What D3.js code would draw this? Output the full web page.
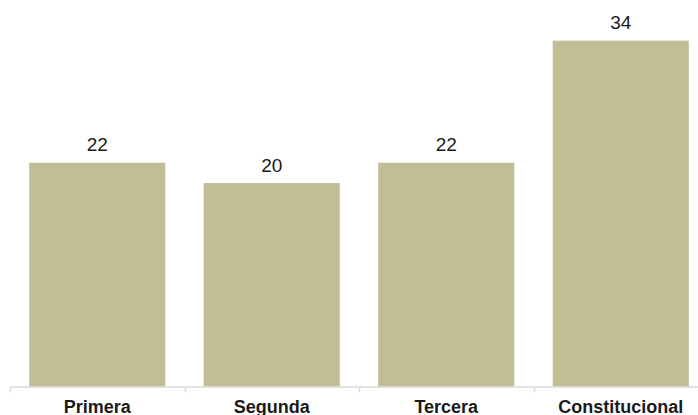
<!DOCTYPE html>
<html>
<head>
<meta charset="utf-8">
<script src="https://cdn.jsdelivr.net/npm/d3@7"></script>
<style>
  html, body { margin: 0; padding: 0; background: #ffffff; }
  svg { display: block; }
</style>
</head>
<body>
<svg id="chart" width="698" height="415"></svg>
<script>
// Chart data
const categories = ["Primera", "Segunda", "Tercera", "Constitucional"];
const values = [22, 20, 22, 34];

const width = 698, height = 415;
const svg = d3.select("#chart");

const x = d3.scaleBand()
  .domain(categories)
  .range([10, 708])
  .paddingInner(0.22)
  .paddingOuter(0.11);

const y = d3.scaleLinear()
  .domain([0, 38])
  .range([386.5, 0]);

const barColor = "#c1bd95";
const axisColor = "#d9d9d9";

// Bars
svg.append("g")
  .selectAll("rect")
  .data(categories)
  .join("rect")
  .attr("x", d => x(d))
  .attr("y", (d, i) => y(values[i]))
  .attr("width", x.bandwidth())
  .attr("height", (d, i) => y(0) - y(values[i]))
  .attr("fill", barColor);

// Value labels above bars
svg.append("g")
  .selectAll("text")
  .data(categories)
  .join("text")
  .attr("x", d => x(d) + x.bandwidth() / 2)
  .attr("y", (d, i) => y(values[i]) - 11.5)
  .attr("text-anchor", "middle")
  .attr("font-family", "'Liberation Sans', Arial, sans-serif")
  .attr("font-size", 19)
  .attr("fill", "#1a1a1a")
  .text((d, i) => values[i]);

// Baseline
svg.append("line")
  .attr("x1", 10).attr("x2", width)
  .attr("y1", y(0) + 0.5).attr("y2", y(0) + 0.5)
  .attr("stroke", axisColor)
  .attr("stroke-width", 1.5);

// Tick marks at category boundaries
const step = x.step();
const boundaries = d3.range(categories.length + 1).map(i => x(categories[0]) - x.paddingOuter() * step + i * step);
svg.append("g")
  .selectAll("line")
  .data(boundaries)
  .join("line")
  .attr("x1", d => Math.round(d) + 0.5)
  .attr("x2", d => Math.round(d) + 0.5)
  .attr("y1", y(0) + 1.5)
  .attr("y2", y(0) + 6)
  .attr("stroke", axisColor)
  .attr("stroke-width", 1.5);

// Category labels
svg.append("g")
  .selectAll("text")
  .data(categories)
  .join("text")
  .attr("x", d => x(d) + x.bandwidth() / 2)
  .attr("y", 412.5)
  .attr("text-anchor", "middle")
  .attr("font-family", "'Liberation Sans', Arial, sans-serif")
  .attr("font-weight", "bold")
  .attr("font-size", 18)
  .attr("fill", "#1a1a1a")
  .text(d => d);
</script>
</body>
</html>
